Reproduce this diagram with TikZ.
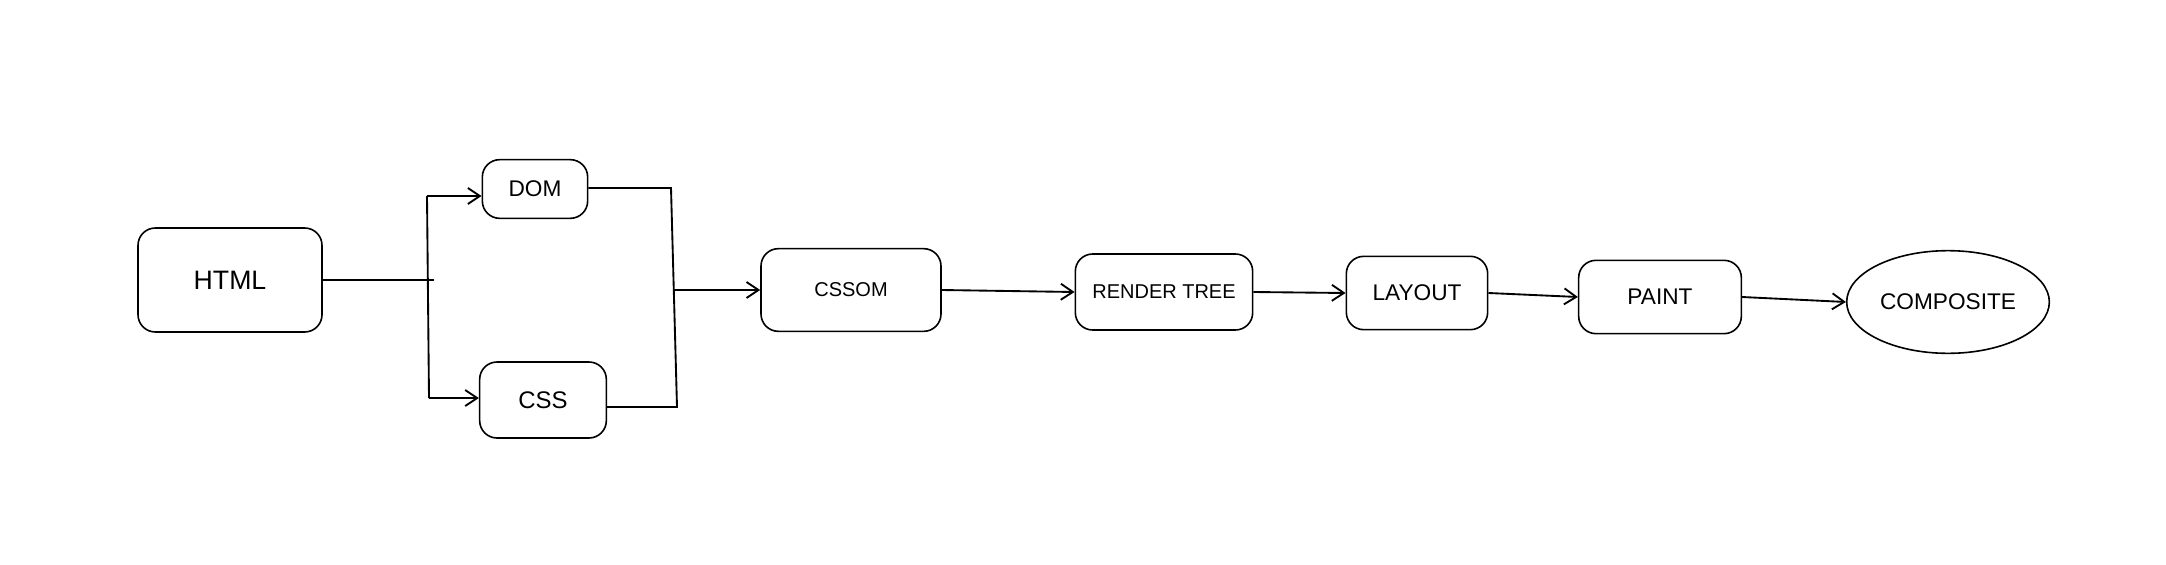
\documentclass[tikz,border=0pt]{standalone}
\usepackage{fontspec}
\setmainfont{Liberation Sans}
\usetikzlibrary{arrows.meta,shapes.geometric}

\tikzset{
  stage/.style={draw, rounded corners=13pt, line width=1.2pt, inner sep=0pt, align=center, font=\fontsize{17}{20}\selectfont},
  flow/.style={line width=1.4pt, -{Straight Barb[length=9pt,width=12pt]}},
  wire/.style={line width=1.4pt}
}

\begin{document}
\begin{tikzpicture}[x=0.75pt,y=0.75pt,yscale=-1,xscale=1]
\useasboundingbox (0,0) rectangle (2166,564);

% Stages
\node[stage, minimum width=138pt, minimum height=78pt, font=\fontsize{20}{24}\selectfont] (html) at (230,280) {HTML};
\node[stage, minimum width=79pt, minimum height=44pt] (dom) at (535,189) {DOM};
\node[stage, minimum width=95pt, minimum height=57pt, font=\fontsize{18}{21}\selectfont] (css) at (543,400) {CSS};
\node[stage, minimum width=135pt, minimum height=62pt, font=\fontsize{15}{18}\selectfont] (cssom) at (851,290) {CSSOM};
\node[stage, minimum width=133pt, minimum height=57pt, font=\fontsize{15}{18}\selectfont] (render) at (1164,292) {RENDER TREE};
\node[stage, minimum width=106pt, minimum height=55pt] (layout) at (1417,293) {LAYOUT};
\node[stage, minimum width=122pt, minimum height=55pt] (paint) at (1660,297) {PAINT};
\node[stage, ellipse, minimum width=152pt, minimum height=77pt] (composite) at (1948,302) {COMPOSITE};

% Split HTML into DOM and CSS
\coordinate (forktip) at (434,280);
\coordinate (forktop) at (427,196);
\coordinate (forkbottom) at (429,398);
\draw[wire] (html.east) -- (forktip);
\draw[wire] (forktop) -- (forkbottom);
\draw[flow] (forktop) -- (dom.west |- forktop);
\draw[flow] (forkbottom) -- (css.west |- forkbottom);

% Join DOM and CSS
\coordinate (jointop) at (671,188);
\coordinate (joinbottom) at (677,407);
\coordinate (joinmid) at (673,290);
\draw[wire] (dom.east |- jointop) -- (jointop) -- (joinbottom) -- (css.east |- joinbottom);
\draw[flow] (joinmid) -- (cssom.west);

% Pipeline
\draw[flow] (cssom.east) -- (render.west);
\draw[flow] (render.east) -- (layout.west);
\draw[flow] (layout.east) -- (paint.west);
\draw[flow] (paint.east) -- (composite.west);

\end{tikzpicture}
\end{document}
